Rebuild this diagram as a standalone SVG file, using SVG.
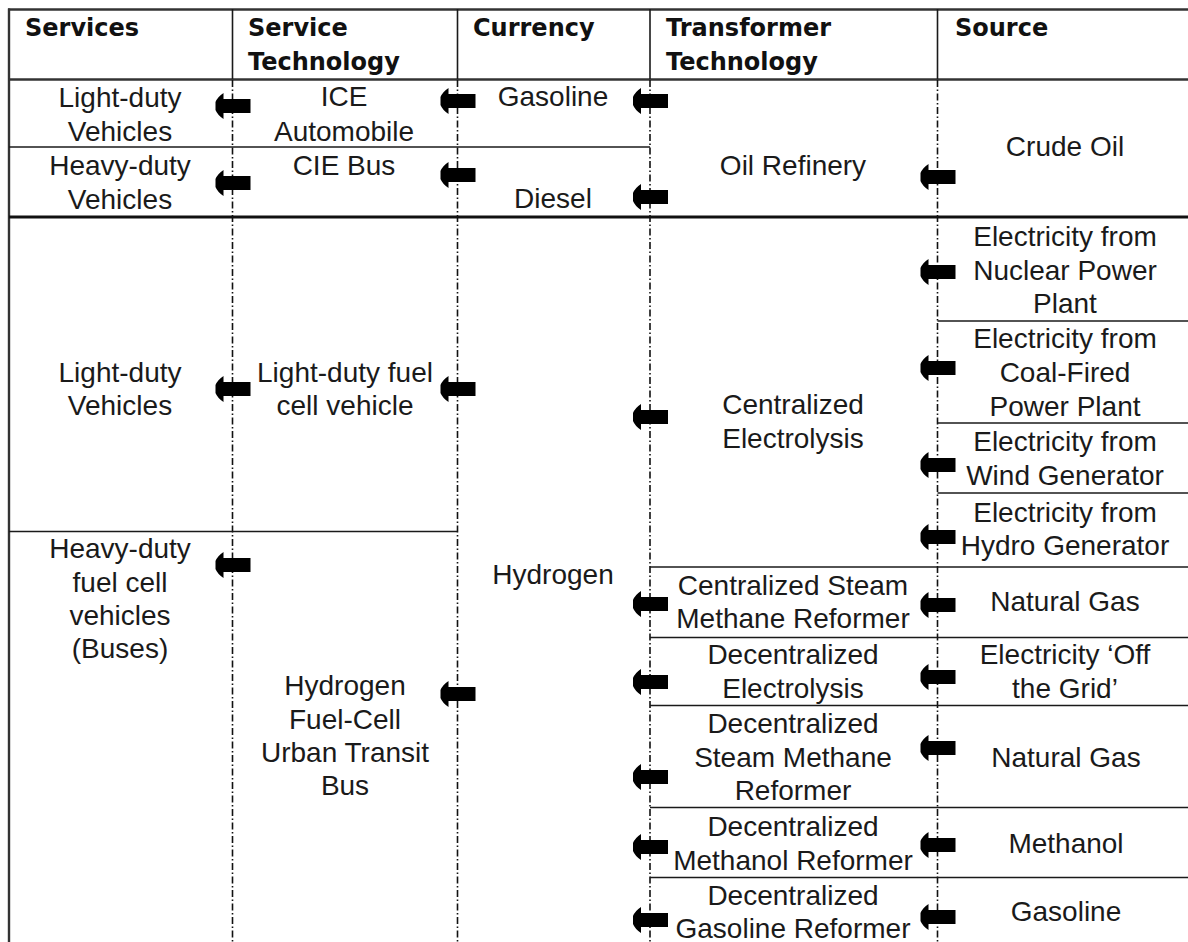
<svg xmlns="http://www.w3.org/2000/svg" xmlns:xlink="http://www.w3.org/1999/xlink" width="1188" height="942" viewBox="0 0 1188 942">
<style>
  .hdr { font-family: "DejaVu Sans", "Liberation Sans", sans-serif; font-weight: bold; font-size: 24px; fill: #111; }
  .txt { font-family: "Liberation Sans", Arial, sans-serif; font-size: 28px; fill: #1a1a1a; text-anchor: middle; }
  .solid { stroke: #1a1a1a; stroke-width: 1.6; fill: none; }
  .border { stroke: #333; stroke-width: 2.4; fill: none; }
  .thick { stroke: #111; stroke-width: 3; fill: none; }
  .dash { stroke: #111; stroke-width: 1.6; fill: none; stroke-dasharray: 7 2.5 1.5 2.5; }
  .arrow { fill: #000; }
</style>
<defs>
  <path id="arrow" d="M-17,-4 Q-15,-9 -9,-13 L-9,-7 L18,-7 L18,7 L-9,7 L-9,13 Q-15,9 -17,4 Z"/>
</defs>
<rect x="0" y="0" width="1188" height="942" fill="#fff"/>

<g id="grid">
  <line class="border" x1="8" y1="9.5" x2="1188" y2="9.5"/>
  <line class="border" x1="9" y1="8.5" x2="9" y2="942"/>
  <line class="border" x1="8" y1="79.5" x2="1188" y2="79.5"/>
  <line class="solid" x1="232.5" y1="9" x2="232.5" y2="79"/>
  <line class="solid" x1="457.5" y1="9" x2="457.5" y2="79"/>
  <line class="solid" x1="650" y1="9" x2="650" y2="79"/>
  <line class="solid" x1="937.5" y1="9" x2="937.5" y2="79"/>
  <line class="dash" x1="232.5" y1="80" x2="232.5" y2="942"/>
  <line class="dash" x1="457.5" y1="80" x2="457.5" y2="942"/>
  <line class="dash" x1="650" y1="80" x2="650" y2="942"/>
  <line class="dash" x1="937.5" y1="80" x2="937.5" y2="942"/>
  <line class="solid" x1="9" y1="147" x2="650" y2="147"/>
  <line class="thick" x1="9" y1="217" x2="1188" y2="217"/>
  <line class="solid" x1="9" y1="531.5" x2="457.5" y2="531.5"/>
  <line class="solid" x1="937.5" y1="321" x2="1188" y2="321"/>
  <line class="solid" x1="937.5" y1="423" x2="1188" y2="423"/>
  <line class="solid" x1="937.5" y1="493" x2="1188" y2="493"/>
  <line class="solid" x1="650" y1="567" x2="1188" y2="567"/>
  <line class="solid" x1="650" y1="637.5" x2="1188" y2="637.5"/>
  <line class="solid" x1="650" y1="705.5" x2="1188" y2="705.5"/>
  <line class="solid" x1="650" y1="807.5" x2="1188" y2="807.5"/>
  <line class="solid" x1="650" y1="877.5" x2="1188" y2="877.5"/>
</g>

<g id="headers">
  <g id="h-services"><text class="hdr" x="25" y="36">Services</text></g>
  <g id="h-service-technology"><text class="hdr" x="248" y="36">Service</text><text class="hdr" x="248" y="70">Technology</text></g>
  <g id="h-currency"><text class="hdr" x="473" y="36">Currency</text></g>
  <g id="h-transformer-technology"><text class="hdr" x="666" y="36">Transformer</text><text class="hdr" x="666" y="70">Technology</text></g>
  <g id="h-source"><text class="hdr" x="955" y="36">Source</text></g>
</g>

<g id="svc-ldv-ice"><text class="txt" x="120" y="106.5">Light-duty</text><text class="txt" x="120" y="140.5">Vehicles</text></g>
<g id="svc-hdv-diesel"><text class="txt" x="120" y="175">Heavy-duty</text><text class="txt" x="120" y="208.5">Vehicles</text></g>
<g id="tech-ice"><text class="txt" x="344" y="106">ICE</text><text class="txt" x="344" y="140.5">Automobile</text></g>
<g id="tech-cie-bus"><text class="txt" x="344" y="175">CIE Bus</text></g>
<g id="cur-gasoline"><text class="txt" x="553" y="106">Gasoline</text></g>
<g id="cur-diesel"><text class="txt" x="553" y="208">Diesel</text></g>
<g id="tr-oil-refinery"><text class="txt" x="793" y="175">Oil Refinery</text></g>
<g id="src-crude-oil"><text class="txt" x="1065" y="156">Crude Oil</text></g>

<g id="svc-ldv-h2"><text class="txt" x="120" y="382">Light-duty</text><text class="txt" x="120" y="415">Vehicles</text></g>
<g id="tech-ld-fcv"><text class="txt" x="345" y="382">Light-duty fuel</text><text class="txt" x="345" y="415">cell vehicle</text></g>
<g id="svc-hd-fcv"><text class="txt" x="120" y="558">Heavy-duty</text><text class="txt" x="120" y="592">fuel cell</text><text class="txt" x="120" y="625">vehicles</text><text class="txt" x="120" y="658">(Buses)</text></g>
<g id="tech-fc-bus"><text class="txt" x="345" y="695">Hydrogen</text><text class="txt" x="345" y="728.5">Fuel-Cell</text><text class="txt" x="345" y="762">Urban Transit</text><text class="txt" x="345" y="795">Bus</text></g>
<g id="cur-hydrogen"><text class="txt" x="553" y="584">Hydrogen</text></g>

<g id="tr-central-electrolysis"><text class="txt" x="793" y="414">Centralized</text><text class="txt" x="793" y="448">Electrolysis</text></g>
<g id="src-nuclear"><text class="txt" x="1065" y="246">Electricity from</text><text class="txt" x="1065" y="280">Nuclear Power</text><text class="txt" x="1065" y="313">Plant</text></g>
<g id="src-coal"><text class="txt" x="1065" y="348">Electricity from</text><text class="txt" x="1065" y="382">Coal-Fired</text><text class="txt" x="1065" y="416">Power Plant</text></g>
<g id="src-wind"><text class="txt" x="1065" y="451">Electricity from</text><text class="txt" x="1065" y="485">Wind Generator</text></g>
<g id="src-hydro"><text class="txt" x="1065" y="521.5">Electricity from</text><text class="txt" x="1065" y="555">Hydro Generator</text></g>

<g id="tr-central-smr"><text class="txt" x="793" y="594.5">Centralized Steam</text><text class="txt" x="793" y="627.5">Methane Reformer</text></g>
<g id="src-natural-gas-1"><text class="txt" x="1065" y="610.5">Natural Gas</text></g>
<g id="tr-decentral-electrolysis"><text class="txt" x="793" y="663.5">Decentralized</text><text class="txt" x="793" y="697.5">Electrolysis</text></g>
<g id="src-off-grid"><text class="txt" x="1065" y="663.5">Electricity ‘Off</text><text class="txt" x="1065" y="697.5">the Grid’</text></g>
<g id="tr-decentral-smr"><text class="txt" x="793" y="732.5">Decentralized</text><text class="txt" x="793" y="766.5">Steam Methane</text><text class="txt" x="793" y="800">Reformer</text></g>
<g id="src-natural-gas-2"><text class="txt" x="1066" y="766.5">Natural Gas</text></g>
<g id="tr-decentral-methanol"><text class="txt" x="793" y="836">Decentralized</text><text class="txt" x="793" y="870">Methanol Reformer</text></g>
<g id="src-methanol"><text class="txt" x="1066" y="852.5">Methanol</text></g>
<g id="tr-decentral-gasoline"><text class="txt" x="793" y="905">Decentralized</text><text class="txt" x="793" y="938">Gasoline Reformer</text></g>
<g id="src-gasoline"><text class="txt" x="1066" y="920.5">Gasoline</text></g>

<g id="connectors" class="arrow">
  <use xlink:href="#arrow" x="232.5" y="106"/>
  <use xlink:href="#arrow" x="232.5" y="183"/>
  <use xlink:href="#arrow" x="232.5" y="389"/>
  <use xlink:href="#arrow" x="232.5" y="565"/>
  <use xlink:href="#arrow" x="457.5" y="101"/>
  <use xlink:href="#arrow" x="457.5" y="175"/>
  <use xlink:href="#arrow" x="457.5" y="389"/>
  <use xlink:href="#arrow" x="457.5" y="694"/>
  <use xlink:href="#arrow" x="650" y="101"/>
  <use xlink:href="#arrow" x="650" y="197"/>
  <use xlink:href="#arrow" x="650" y="417"/>
  <use xlink:href="#arrow" x="650" y="604"/>
  <use xlink:href="#arrow" x="650" y="682"/>
  <use xlink:href="#arrow" x="650" y="777"/>
  <use xlink:href="#arrow" x="650" y="847"/>
  <use xlink:href="#arrow" x="650" y="920"/>
  <use xlink:href="#arrow" x="937.5" y="177"/>
  <use xlink:href="#arrow" x="937.5" y="272"/>
  <use xlink:href="#arrow" x="937.5" y="368"/>
  <use xlink:href="#arrow" x="937.5" y="465"/>
  <use xlink:href="#arrow" x="937.5" y="537"/>
  <use xlink:href="#arrow" x="937.5" y="605"/>
  <use xlink:href="#arrow" x="937.5" y="677"/>
  <use xlink:href="#arrow" x="937.5" y="748"/>
  <use xlink:href="#arrow" x="937.5" y="845"/>
  <use xlink:href="#arrow" x="937.5" y="917"/>
</g>
</svg>
